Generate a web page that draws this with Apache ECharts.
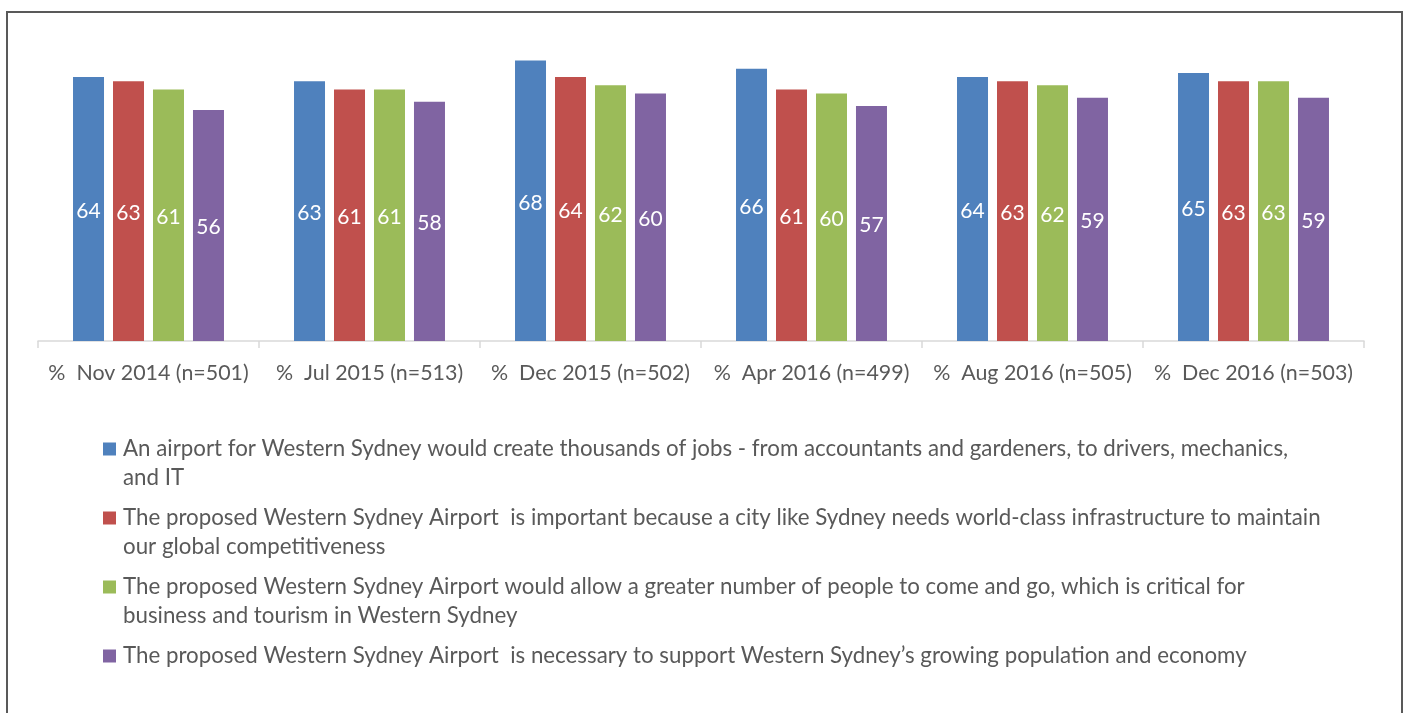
<!DOCTYPE html>
<html>
<head>
<meta charset="utf-8">
<script src="https://cdn.jsdelivr.net/npm/echarts@6/dist/echarts.min.js"></script>
<style>
html,body{margin:0;padding:0;background:#fff;}
#chart{width:1409px;height:713px;}
</style>
</head>
<body>
<div id="chart"></div>
<script>
const categories = ['%  Nov 2014 (n=501)', '%  Jul 2015 (n=513)', '%  Dec 2015 (n=502)', '%  Apr 2016 (n=499)', '%  Aug 2016 (n=505)', '%  Dec 2016 (n=503)'];
const seriesNames = [
  'An airport for Western Sydney would create thousands of jobs - from accountants and gardeners, to drivers, mechanics,\nand IT',
  'The proposed Western Sydney Airport  is important because a city like Sydney needs world-class infrastructure to maintain\nour global competitiveness',
  'The proposed Western Sydney Airport would allow a greater number of people to come and go, which is critical for\nbusiness and tourism in Western Sydney',
  'The proposed Western Sydney Airport  is necessary to support Western Sydney\u2019s growing population and economy'
];
const jobs = [64, 63, 68, 66, 64, 65];
const infrastructure = [63, 61, 64, 61, 63, 63];
const tourism = [61, 61, 62, 60, 62, 63];
const population = [56, 58, 60, 57, 59, 59];
const colors = ['#4F81BD', '#C0504D', '#9BBB59', '#8064A2'];

const FONT = 'Lato';
const seriesData = [jobs, infrastructure, tourism, population];

const rich = {
  t: {fontSize: 22.3, color: '#595959', fontFamily: FONT, lineHeight: 29},
  g: {width: 7, height: 13},
  i: {width: 20, height: 13}
};
colors.forEach((c, k) => {
  rich['q' + k] = {width: 13, height: 13, backgroundColor: c};
});

const chart = echarts.init(document.getElementById('chart'));
chart.setOption({
  animation: false,
  color: colors,
  grid: {left: 38, right: 45, top: 11, bottom: 372, containLabel: false},
  xAxis: {
    type: 'category',
    data: categories,
    axisLine: {lineStyle: {color: '#D9D9D9', width: 1.5}},
    axisTick: {show: true, length: 7, lineStyle: {color: '#D9D9D9', width: 1.5}},
    axisLabel: {interval: 0, fontSize: 21.4, color: '#595959', fontFamily: FONT, margin: 22}
  },
  yAxis: {
    type: 'value', min: 0, max: 80, show: false,
    splitLine: {show: false}
  },
  legend: {
    orient: 'vertical',
    left: 98,
    top: 438,
    padding: 0,
    itemGap: 18,
    itemWidth: 0,
    itemHeight: 0,
    selectedMode: false,
    itemStyle: {opacity: 0},
    data: seriesNames,
    formatter: function (name) {
      const k = seriesNames.indexOf(name);
      const lines = name.split('\n');
      let s = '{q' + k + '|}{g|}{t|' + lines[0] + '}';
      for (let j = 1; j < lines.length; j++) {
        s += '\n{i|}{t|' + lines[j] + '}';
      }
      return s;
    },
    textStyle: {rich: rich, fontFamily: FONT, fontSize: 22.3, color: '#595959'}
  },
  graphic: [{
    type: 'rect',
    silent: true,
    shape: {x: 7, y: 12, width: 1395, height: 720},
    style: {fill: 'none', stroke: '#595959', lineWidth: 2}
  }],
  series: seriesData.map((d, k) => ({
    name: seriesNames[k],
    type: 'bar',
    data: d,
    barWidth: 31,
    barGap: '29%',
    itemStyle: {color: colors[k]},
    label: {show: true, position: 'inside', offset: [0, 2], color: '#fff', fontSize: 21, fontFamily: FONT}
  }))
});
</script>
</body>
</html>
